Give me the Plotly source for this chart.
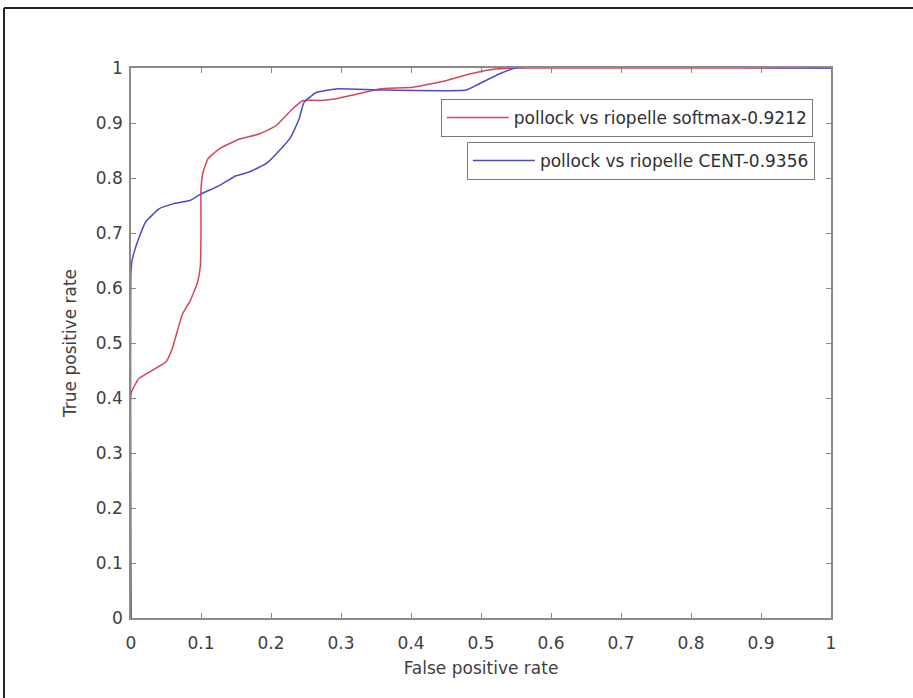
import plotly.graph_objects as go

# ROC curve data
red_fpr = [0, 0, 0.011, 0.026, 0.05, 0.059, 0.073, 0.085, 0.095, 0.099, 0.1, 0.1, 0.103, 0.11,
           0.126, 0.155, 0.183, 0.207, 0.231, 0.246, 0.27, 0.293, 0.317, 0.355, 0.403, 0.45,
           0.484, 0.52, 0.55, 1.0]
red_tpr = [0, 0.408, 0.435, 0.447, 0.466, 0.49, 0.551, 0.578, 0.61, 0.639, 0.70, 0.78, 0.811, 0.835,
           0.853, 0.871, 0.880, 0.895, 0.926, 0.941, 0.941, 0.944, 0.951, 0.962, 0.965, 0.977,
           0.989, 0.998, 1.0, 1.0]

blue_fpr = [0, 0, 0.002, 0.011, 0.021, 0.04, 0.06, 0.084, 0.1, 0.126, 0.15, 0.169, 0.193, 0.212,
            0.228, 0.24, 0.247, 0.264, 0.293, 0.355, 0.479, 0.497, 0.526, 0.55, 1.0]
blue_tpr = [0, 0.63, 0.653, 0.69, 0.72, 0.744, 0.753, 0.759, 0.771, 0.786, 0.804, 0.811, 0.826, 0.85,
            0.874, 0.907, 0.937, 0.955, 0.962, 0.96, 0.96, 0.971, 0.989, 1.0, 1.0]

red_name = "pollock vs riopelle softmax-0.9212"
blue_name = "pollock vs riopelle CENT-0.9356"

tick_vals = [0, 0.1, 0.2, 0.3, 0.4, 0.5, 0.6, 0.7, 0.8, 0.9, 1]
tick_text = ["0", "0.1", "0.2", "0.3", "0.4", "0.5", "0.6", "0.7", "0.8", "0.9", "1"]

FONT = "DejaVu Sans, Arial, sans-serif"

fig = go.Figure()
fig.add_trace(go.Scatter(x=red_fpr, y=red_tpr, mode="lines", name=red_name,
                         line=dict(color="#d6455a", width=1.5, shape="spline", smoothing=0.4),
                         legend="legend", showlegend=True))
fig.add_trace(go.Scatter(x=blue_fpr, y=blue_tpr, mode="lines", name=blue_name,
                         line=dict(color="#4c4cc8", width=1.5, shape="spline", smoothing=0.4),
                         legend="legend2", showlegend=True))

axis_common = dict(
    range=[0, 1], tickvals=tick_vals, ticktext=tick_text,
    showgrid=False, zeroline=False, showline=True, linecolor="#8a8a8a", linewidth=1.5,
    mirror="allticks", ticks="inside", ticklen=5, tickcolor="#8a8a8a", tickwidth=1,
    tickfont=dict(family=FONT, size=17, color="#404040"), layer="below traces",
    title_font=dict(family=FONT, size=17, color="#404040"),
)

W, H = 913, 698
L, T = 131, 68
PW, PH = 700, 550
R, B = W - L - PW, H - T - PH

fig.update_layout(
    width=W, height=H,
    margin=dict(l=L, r=R, t=T, b=B),
    paper_bgcolor="white", plot_bgcolor="white",
    showlegend=True,
    xaxis=dict(axis_common, ticklabelstandoff=9, title=dict(text="False positive rate", standoff=10)),
    yaxis=dict(axis_common, ticklabelstandoff=3, title=dict(text="True positive rate", standoff=15)),
    legend=dict(x=0.974, y=0.9436, xanchor="right", yanchor="top",
                bordercolor="#7a7a7a", borderwidth=1, bgcolor="white",
                font=dict(family=FONT, size=17, color="#303030"), itemwidth=62),
    legend2=dict(x=0.977, y=0.8655, xanchor="right", yanchor="top",
                 bordercolor="#7a7a7a", borderwidth=1, bgcolor="white",
                 font=dict(family=FONT, size=17, color="#303030"), itemwidth=62),
    shapes=[
        # frame of the original image: top edge at y=8, left edge at x=4
        dict(type="line", xref="paper", yref="paper", x0=-(L - 4) / PW, x1=1 + (R + 10) / PW,
             y0=(T + PH - 8) / PH, y1=(T + PH - 8) / PH, line=dict(color="#222222", width=2)),
        dict(type="line", xref="paper", yref="paper", x0=-(L - 4) / PW, x1=-(L - 4) / PW,
             y0=(T + PH - 8) / PH, y1=-(B + 10) / PH, line=dict(color="#222222", width=2)),
    ],
)

fig.write_html(
    "out.html",
    config={"displayModeBar": False},
    post_script="document.body.style.margin='0';document.body.style.overflow='hidden';",
)
